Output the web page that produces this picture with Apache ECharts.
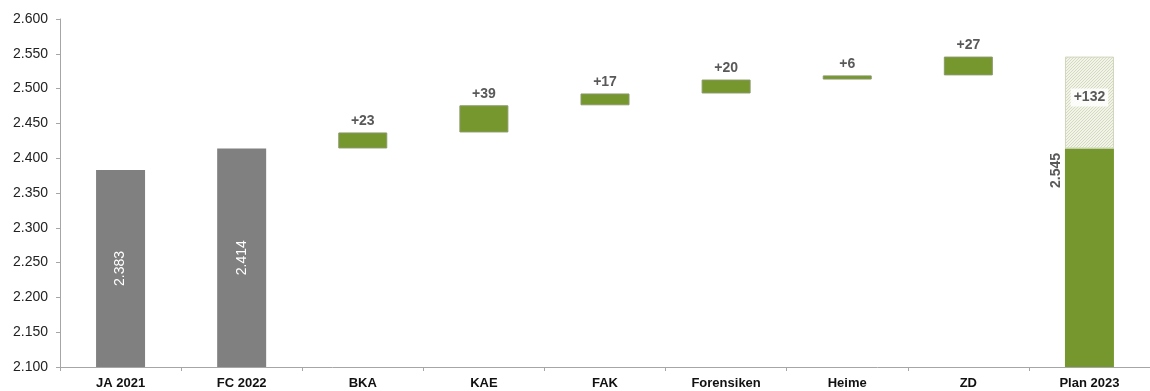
<!DOCTYPE html>
<html>
<head>
<meta charset="utf-8">
<script src="https://cdn.jsdelivr.net/npm/echarts@6/dist/echarts.min.js"></script>
<style>
    html, body { margin: 0; padding: 0; background: #fff; }
    #myChart { width: 1150px; height: 391px; }
</style>
</head>
<body>
<div id="myChart"></div>
<script>
    // Kategorien und Werte (in Tsd.)
    var categories = ['JA 2021', 'FC 2022', 'BKA', 'KAE', 'FAK', 'Forensiken', 'Heime', 'ZD', 'Plan 2023'];
    var startValues = [2383, 2414];          // graue Säulen
    var deltas = [23, 39, 17, 20, 6, 27];     // Veränderungen BKA .. ZD
    var planTotal = 2545;
    var planGrowth = 132;
    var yTicks = { min: 2100, max: 2600, interval: 50 };

    var grey = '#808080';
    var green = '#76962e';
    var font = '"Liberation Sans", Arial, sans-serif';

    function fmt(v) {
        return String(v).replace(/\B(?=(\d{3})+(?!\d))/g, '.');
    }

    // Wasserfall-Basis aufbauen
    var baseData = ['-', '-'];
    var deltaData = ['-', '-'];
    var running = startValues[startValues.length - 1];
    deltas.forEach(function (d) {
        baseData.push(running);
        deltaData.push(d);
        running += d;
    });
    baseData.push('-');
    deltaData.push('-');
    var planBase = startValues[startValues.length - 1];

    var greyData = startValues.concat(categories.slice(2).map(function () { return '-'; }));
    var planSolid = categories.map(function (c, i) { return i == categories.length - 1 ? planBase : '-'; });
    var planHatch = categories.map(function (c, i) { return i == categories.length - 1 ? planGrowth : '-'; });

    // Schraffur-Muster (fein, hell)
    var pat = document.createElement('canvas');
    pat.width = 3; pat.height = 3;
    var ctx = pat.getContext('2d');
    ctx.fillStyle = '#f2f4ea';
    ctx.fillRect(0, 0, 3, 3);
    ctx.fillStyle = '#d4dabd';
    ctx.fillRect(0, 2, 1, 1);
    ctx.fillRect(1, 1, 1, 1);
    ctx.fillRect(2, 0, 1, 1);

    var myChart = echarts.init(document.getElementById('myChart'));
    myChart.setOption({
        animation: false,
        textStyle: { fontFamily: font },
        grid: { left: 60, right: -9, top: 19, bottom: 24, containLabel: false },
        xAxis: {
            type: 'category',
            data: categories,
            axisLine: { lineStyle: { color: '#a6a6a6', width: 1 } },
            axisTick: { show: true, length: 4, lineStyle: { color: '#a6a6a6' } },
            axisLabel: { color: '#111', fontWeight: 'bold', fontSize: 13, margin: 10, fontFamily: font }
        },
        yAxis: {
            type: 'value',
            min: yTicks.min,
            max: yTicks.max,
            interval: yTicks.interval,
            splitLine: { show: false },
            axisLine: { show: true, lineStyle: { color: '#a6a6a6' } },
            axisTick: { show: true, length: 4, lineStyle: { color: '#a6a6a6' } },
            axisLabel: {
                color: '#222', fontSize: 14, margin: 12, fontFamily: font,
                formatter: function (v) { return fmt(v.toFixed(0)); }
            }
        },
        series: [{
            name: 'base',
            type: 'bar',
            stack: 'w',
            barWidth: 49,
            itemStyle: { color: 'transparent' },
            data: baseData
        }, {
            name: 'ist',
            type: 'bar',
            stack: 'w',
            barWidth: 49,
            itemStyle: { color: grey },
            label: {
                show: true,
                position: 'inside',
                rotate: 90,
                color: '#fff',
                fontSize: 14,
                fontFamily: font,
                formatter: function (p) { return fmt(p.value); }
            },
            data: greyData
        }, {
            name: 'delta',
            type: 'bar',
            stack: 'w',
            barWidth: 49,
            itemStyle: { color: green, borderColor: '#8a9a6a', borderWidth: 1 },
            label: {
                show: true,
                position: 'top',
                distance: 4,
                color: '#595959',
                fontWeight: 'bold',
                fontSize: 14,
                fontFamily: font,
                formatter: function (p) { return '+' + p.value; }
            },
            data: deltaData
        }, {
            name: 'plan',
            type: 'bar',
            stack: 'w',
            barWidth: 49,
            itemStyle: { color: green },
            label: {
                show: true,
                position: [-9, 22],
                rotate: 90,
                align: 'center',
                verticalAlign: 'middle',
                color: '#595959',
                fontWeight: 'bold',
                fontSize: 14,
                fontFamily: font,
                formatter: function () { return fmt(planTotal); }
            },
            data: planSolid
        }, {
            name: 'planGrowth',
            type: 'bar',
            stack: 'w',
            barWidth: 49,
            itemStyle: { color: { image: pat, repeat: 'repeat' }, borderColor: '#d0d6bd', borderWidth: 1 },
            label: {
                show: true,
                position: 'inside',
                offset: [0, -5],
                color: '#595959',
                fontWeight: 'bold',
                fontSize: 14,
                fontFamily: font,
                backgroundColor: 'rgba(255,255,255,0.85)',
                padding: [2, 3],
                formatter: function (p) { return '+' + p.value; }
            },
            data: planHatch
        }]
    });
</script>
</body>
</html>
